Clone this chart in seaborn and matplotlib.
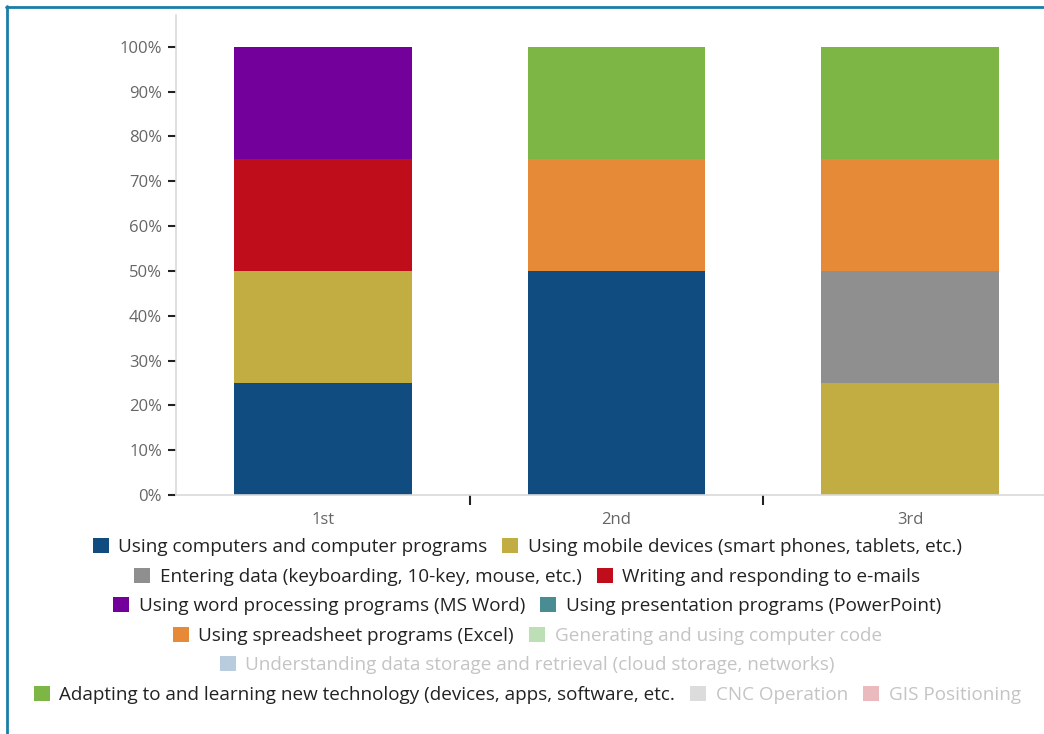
import matplotlib
matplotlib.use("Agg")
import matplotlib.pyplot as plt
from matplotlib.lines import Line2D
from matplotlib.patches import Patch
import pandas as pd
import seaborn as sns

CATEGORIES = ["1st", "2nd", "3rd"]
SERIES = [
    "Using computers and computer programs",
    "Using mobile devices (smart phones, tablets, etc.)",
    "Entering data (keyboarding, 10-key, mouse, etc.)",
    "Writing and responding to e-mails",
    "Using word processing programs (MS Word)",
    "Using presentation programs (PowerPoint)",
    "Using spreadsheet programs (Excel)",
    "Generating and using computer code",
    "Understanding data storage and retrieval (cloud storage, networks)",
    "Adapting to and learning new technology (devices, apps, software, etc.",
    "CNC Operation",
    "GIS Positioning",
]
COLORS = [
    "#104c80", "#c2ad42", "#8f8f8f", "#c00d1b", "#73009a", "#4a8c94",
    "#e68a38", "#bcdfb6", "#b9ccdd", "#7eb646", "#dcdcdc", "#eababf",
]
HIDDEN = [False, False, False, False, False, False, False, True, True, False, True, True]
# percent share per category (1st, 2nd, 3rd)
VALUES = [
    [25, 50, 0],
    [25, 0, 25],
    [0, 0, 25],
    [25, 0, 0],
    [25, 0, 0],
    [0, 0, 0],
    [0, 25, 25],
    [0, 0, 0],
    [0, 0, 0],
    [0, 25, 25],
    [0, 0, 0],
    [0, 0, 0],
]
LEGEND_ROWS = [[0, 1], [2, 3], [4, 5], [6, 7], [8], [9, 10, 11]]
YTICKS = [0, 10, 20, 30, 40, 50, 60, 70, 80, 90, 100]

sns.set_theme(style="white")
plt.rcParams["font.family"] = ["Open Sans", "DejaVu Sans"]

W, H = 1044, 734
fig = plt.figure(figsize=(W / 100, H / 100), dpi=100, facecolor="white")
ax = fig.add_axes([176 / W, 1 - 495 / H, 881 / W, 480 / H])

wide = pd.DataFrame(VALUES, index=SERIES, columns=CATEGORIES)
cum = wide.cumsum()
# draw tallest cumulative first so lower segments sit on top
for i in reversed(range(len(SERIES))):
    if HIDDEN[i]:
        continue
    df = pd.DataFrame({"cat": CATEGORIES, "top": cum.iloc[i].values})
    sns.barplot(data=df, x="cat", y="top", color=COLORS[i], saturation=1,
                width=0.605, edgecolor="none", ax=ax, order=CATEGORIES)

ax.set_xlim(-0.5, 2.5)
ax.set_ylim(0, 107.1)
ax.set_yticks(YTICKS)
ax.set_yticklabels([f"{t}%" for t in YTICKS])
ax.set_xlabel("")
ax.set_ylabel("")
for s in ["top", "right"]:
    ax.spines[s].set_visible(False)
for s in ["left", "bottom"]:
    ax.spines[s].set_color("#d9d9d9")
    ax.spines[s].set_linewidth(1.2)
ax.tick_params(axis="y", left=True, length=6, width=1.5, color="#222222",
               labelsize=12, labelcolor="#666666", pad=4)
ax.tick_params(axis="x", which="major", bottom=False, labelsize=12,
               labelcolor="#666666", pad=6)
ax.set_xticks([0.5, 1.5], minor=True)
ax.tick_params(axis="x", which="minor", bottom=True, length=7, width=1.5,
               color="#222222")
ax.grid(False)

row_y = [547, 577, 606, 636, 665, 695]
for row, yc in zip(LEGEND_ROWS, row_y):
    handles = [Patch(facecolor=COLORS[i], edgecolor="none") for i in row]
    labels = [SERIES[i] for i in row]
    leg = fig.legend(handles, labels, loc="center", bbox_to_anchor=(0.505, 1 - yc / H),
                     ncol=len(row), frameon=False, fontsize=13.6, handlelength=0.85,
                     handleheight=0.85, handletextpad=0.5, columnspacing=0.8,
                     borderpad=0, borderaxespad=0)
    for i, txt in zip(row, leg.get_texts()):
        txt.set_color("#c4c4c4" if HIDDEN[i] else "#222222")

# frame around the card (top and left edges visible)
fig.add_artist(Line2D([6 / W, 1], [1 - 7 / H, 1 - 7 / H], transform=fig.transFigure,
                      color="#197ea8", linewidth=2))
fig.add_artist(Line2D([7 / W, 7 / W], [0, 1 - 6 / H], transform=fig.transFigure,
                      color="#197ea8", linewidth=2))

fig.savefig("out.png", dpi=100, facecolor="white")
